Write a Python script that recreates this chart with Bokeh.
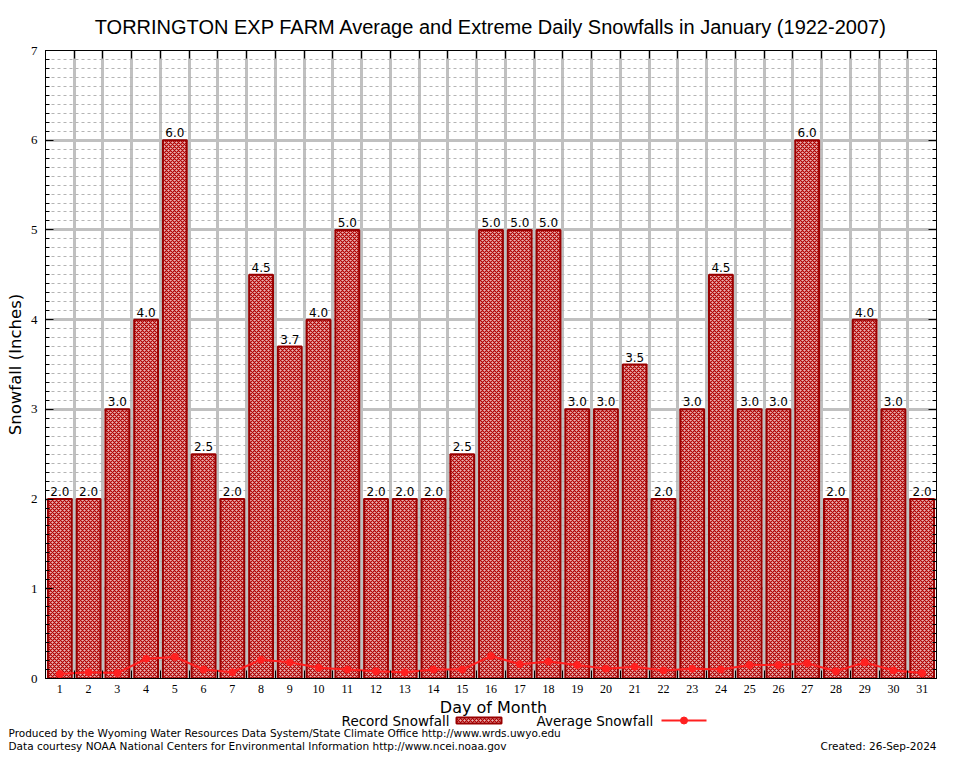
from bokeh.plotting import figure
from bokeh.models import (ColumnDataSource, Range1d, FixedTicker, LinearAxis, Label)
from bokeh.layouts import column, row
from bokeh.core.properties import value
from bokeh.embed import file_html
from bokeh.resources import INLINE

# ---- data ----
days = list(range(1, 32))
record_snowfall = [2.0, 2.0, 3.0, 4.0, 6.0, 2.5, 2.0, 4.5, 3.7, 4.0, 5.0, 2.0, 2.0, 2.0, 2.5,
                   5.0, 5.0, 5.0, 3.0, 3.0, 3.5, 2.0, 3.0, 4.5, 3.0, 3.0, 6.0, 2.0, 4.0, 3.0, 2.0]
average_snowfall = [0.05, 0.07, 0.06, 0.22, 0.24, 0.10, 0.07, 0.21, 0.18, 0.12, 0.10, 0.08, 0.07,
                    0.10, 0.10, 0.25, 0.16, 0.19, 0.15, 0.11, 0.13, 0.09, 0.11, 0.10, 0.15, 0.15,
                    0.17, 0.08, 0.18, 0.09, 0.06]
y_ticks = [0, 1, 2, 3, 4, 5, 6, 7]
title_text = "TORRINGTON EXP FARM Average and Extreme Daily Snowfalls in January (1922-2007)"
x_label = "Day of Month"
y_label = "Snowfall (Inches)"
legend_labels = ["Record Snowfall", "Average Snowfall"]
footer_1 = "Produced by the Wyoming Water Resources Data System/State Climate Office http://www.wrds.uwyo.edu"
footer_2 = "Data courtesy NOAA National Centers for Environmental Information http://www.ncei.noaa.gov"
created = "Created: 26-Sep-2024"

labels = ["%.1f" % v for v in record_snowfall]
src = ColumnDataSource(dict(day=days, rec=record_snowfall, avg=average_snowfall, lab=labels))

boundaries = [d + 0.5 for d in days[:-1]]
y_minor = [i / 10 for i in range(0, 71) if i % 10 != 0]

BAR_FILL = "#eab4b4"
BAR_LINE = "#990000"
HATCH = "#b00000"
AVG = "#ff2020"
sans = "DejaVu Sans"
serif = "Liberation Serif"

W = 938
H_MAIN = 698
H_FOOT = 54

p = figure(width=W, height=H_MAIN, output_backend="svg", toolbar_location=None,
           x_range=Range1d(0.5, 31.5), y_range=Range1d(0, 7),
           min_border_left=45, min_border_right=2, min_border_top=47, min_border_bottom=20,
           x_axis_location=None, y_axis_location=None)
p.title.text = title_text
p.title.align = "center"
p.title.text_font = "Liberation Sans"
p.title.text_font_size = "20px"
p.title.text_font_style = "normal"
p.title.text_color = "black"
p.title.standoff = 26
p.outline_line_color = "black"
p.outline_line_width = 1
p.background_fill_color = "white"
p.border_fill_color = "white"

# bottom axis: labels at integers, ticks at day boundaries
xb = LinearAxis(ticker=FixedTicker(ticks=days, minor_ticks=boundaries))
xb.major_tick_in = 0
xb.major_tick_out = 0
xb.minor_tick_in = 8
xb.minor_tick_out = 0
xb.minor_tick_line_color = "black"
xb.major_label_text_font = serif
xb.major_label_text_font_size = "12px"
xb.major_label_text_color = "black"
xb.major_label_standoff = 6
xb.axis_line_color = "black"
p.add_layout(xb, "below")

# top axis: ticks at boundaries, no labels
xt = LinearAxis(ticker=FixedTicker(ticks=boundaries))
xt.major_tick_in = 8
xt.major_tick_out = 0
xt.minor_tick_line_color = None
xt.major_label_text_font_size = "1px"
xt.major_label_text_color = None
xt.major_label_standoff = 0
p.add_layout(xt, "above")

# left axis
yl = LinearAxis(ticker=FixedTicker(ticks=y_ticks, minor_ticks=y_minor))
yl.major_tick_in = 8
yl.major_tick_out = 0
yl.minor_tick_in = 4
yl.minor_tick_out = 0
yl.major_label_text_font = serif
yl.major_label_text_font_size = "13px"
yl.major_label_text_color = "black"
yl.major_label_standoff = 8
yl.axis_label = y_label
yl.axis_label_text_font = sans
yl.axis_label_text_font_size = "16.5px"
yl.axis_label_text_font_style = "normal"
yl.axis_label_text_color = "black"
yl.axis_label_standoff = 3
p.add_layout(yl, "left")

# right axis
yr = LinearAxis(ticker=FixedTicker(ticks=y_ticks, minor_ticks=y_minor))
yr.major_tick_in = 8
yr.major_tick_out = 0
yr.minor_tick_in = 4
yr.minor_tick_out = 0
yr.major_label_text_font_size = "1px"
yr.major_label_text_color = None
yr.major_label_standoff = 0
p.add_layout(yr, "right")

# grids
p.xgrid.ticker = FixedTicker(ticks=boundaries)
p.xgrid.grid_line_color = "#c0c0c0"
p.xgrid.grid_line_width = 3
p.ygrid.ticker = FixedTicker(ticks=y_ticks, minor_ticks=y_minor)
p.ygrid.grid_line_color = "#c0c0c0"
p.ygrid.grid_line_width = 3
p.ygrid.minor_grid_line_color = "#b4b4b4"
p.ygrid.minor_grid_line_width = 1
p.ygrid.minor_grid_line_dash = "3 3"

bar_style = dict(fill_color=BAR_FILL, line_color=BAR_LINE, line_width=2,
                 hatch_pattern="diagonal_cross", hatch_color=HATCH,
                 hatch_scale=4, hatch_weight=1.2)

p.vbar(x="day", top="rec", bottom=0, width=0.83, source=src, **bar_style)

p.text(x="day", y="rec", text="lab", source=src, text_align="center",
       text_baseline="bottom", y_offset=-3, text_font=value(sans),
       text_font_size="12px", text_color="black")

p.line(x="day", y="avg", source=src, line_color=AVG, line_width=2)
p.scatter(x="day", y="avg", source=src, size=7, fill_color=AVG, line_color=AVG)

# ---- footer panel: x label, legend, credits (coordinates = page pixels) ----
Y0 = H_MAIN
f = figure(width=W, height=H_FOOT, output_backend="svg", toolbar_location=None,
           x_range=Range1d(0, W), y_range=Range1d(Y0 + H_FOOT, Y0),
           min_border=0, x_axis_location=None, y_axis_location=None)
f.outline_line_color = None
f.xgrid.visible = False
f.ygrid.visible = False
f.background_fill_color = "white"
f.border_fill_color = "white"

def lab(x, y, text, size, align="left"):
    f.add_layout(Label(x=x, y=y, text=text, text_font=sans, text_font_size=size,
                       text_align=align, text_baseline="middle", text_color="black"))

lab(493, 707, x_label, "16px", "center")
lab(449, 720, legend_labels[0], "13.5px", "right")
lab(536, 720, legend_labels[1], "13.5px", "left")
lab(8, 732, footer_1, "10.5px", "left")
lab(8, 745, footer_2, "10.5px", "left")
lab(936, 745, created, "10.5px", "right")

# legend keys
f.quad(left=[456], right=[501], top=[717], bottom=[723], **bar_style)
f.line(x=[661, 706], y=[720, 720], line_color=AVG, line_width=2)
f.scatter(x=[683.5], y=[720], size=7, fill_color=AVG, line_color=AVG)

layout = column(p, row(f), spacing=0)
open("out.html", "w").write(file_html(layout, INLINE))
